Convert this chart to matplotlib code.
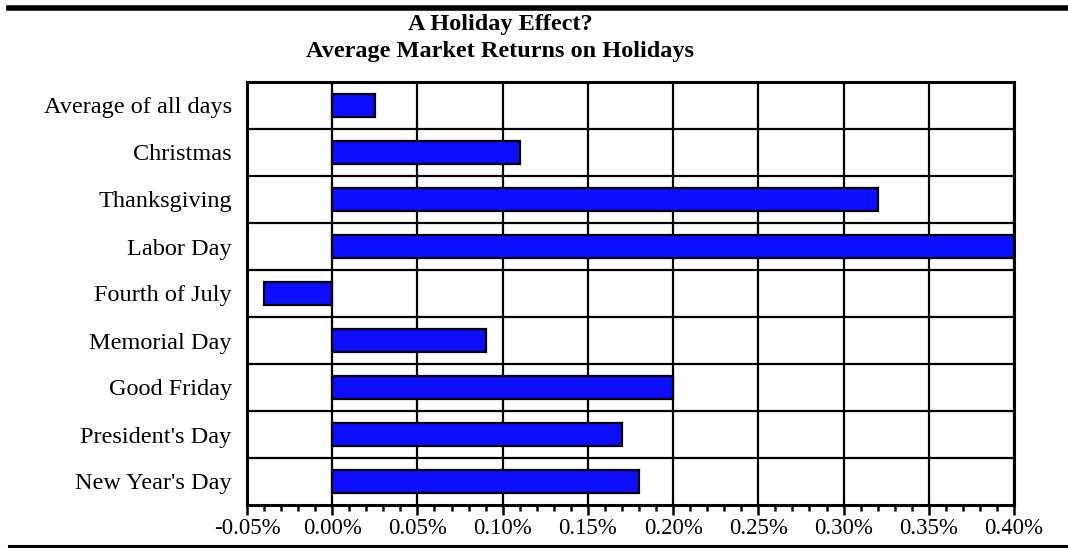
import numpy as np
import matplotlib
matplotlib.use("Agg")
import matplotlib.pyplot as plt
from matplotlib.lines import Line2D
from matplotlib.ticker import MultipleLocator, FuncFormatter

plt.rcParams['font.family'] = ['Liberation Serif', 'DejaVu Serif']
plt.rcParams['axes.unicode_minus'] = False

# average return per holiday, in percent (top row first)
holidays = ["Average of all days", "Christmas", "Thanksgiving", "Labor Day",
            "Fourth of July", "Memorial Day", "Good Friday",
            "President's Day", "New Year's Day"]
returns = [0.025, 0.11, 0.32, 0.40, -0.04, 0.09, 0.20, 0.17, 0.18]

fig = plt.figure(figsize=(10.68, 5.48), dpi=100)
ax = fig.add_axes([247/1068, 1 - 505/548, (1014-247)/1068, (505-82)/548])

ypos = np.arange(len(holidays))
ax.barh(ypos, returns, height=0.49, color='#0D0DFF', edgecolor='black',
        linewidth=1.6, zorder=3)

ax.set_xlim(-0.05, 0.40)
ax.set_ylim(len(holidays) - 0.5, -0.5)

ax.xaxis.set_major_locator(MultipleLocator(0.05))
ax.xaxis.set_minor_locator(MultipleLocator(0.01))
ax.xaxis.set_major_formatter(FuncFormatter(lambda v, p: f"{v:.2f}%"))

ax.set_yticks(ypos)
ax.set_yticklabels(holidays)
ax.set_yticks(ypos[:-1] + 0.5, minor=True)

# black grid: verticals at the major percentages, horizontals between rows
ax.grid(True, which='major', axis='x', color='black', linewidth=1.6, zorder=1)
ax.grid(True, which='minor', axis='y', color='black', linewidth=1.6, zorder=1)
ax.set_axisbelow(True)

ax.tick_params(axis='x', which='major', direction='out', length=7, width=1.8,
               labelsize=16.5, pad=2)
ax.tick_params(axis='x', which='minor', direction='out', length=4, width=1.8)
ax.tick_params(axis='y', which='both', length=0, labelsize=17.5, pad=11)

for side in ax.spines.values():
    side.set_linewidth(2.2)
    side.set_color('black')

fig.text(500/1068, 1 - 30/548, "A Holiday Effect?", ha='center', va='baseline',
         fontsize=17.5, fontweight='bold')
fig.text(500/1068, 1 - 57/548, "Average Market Returns on Holidays",
         ha='center', va='baseline', fontsize=17.5, fontweight='bold')

# rules above and below the chart
fig.add_artist(Line2D([9/1068, 1], [1 - 8/548, 1 - 8/548], color='black',
                      linewidth=4.0, transform=fig.transFigure))
fig.add_artist(Line2D([9/1068, 1], [1 - 546/548, 1 - 546/548], color='black',
                      linewidth=2.2, transform=fig.transFigure))

fig.savefig("out.png", dpi=100)
